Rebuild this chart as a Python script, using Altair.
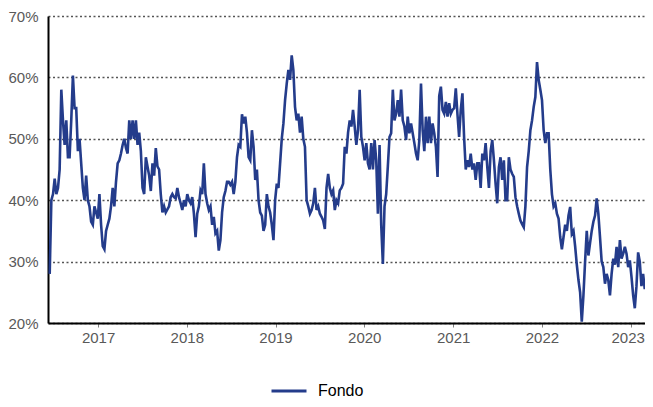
import altair as alt
import pandas as pd

series_name = "Fondo"

seg1 = [28, 40, 41, 43.5, 41, 42, 45, 58, 53, 49, 53, 47, 47, 53, 60.3, 55, 55, 48, 50, 46,
        42, 40, 44, 40, 39, 36.5, 36, 39, 38, 37, 41, 36, 32.5, 32, 35, 36, 37, 39, 42, 39,
        43, 46, 46.5]
seg2 = [47.6, 49, 50, 48.5, 47.6, 53, 50, 53, 50, 53, 49, 51, 48, 42, 41, 47, 45.5, 44, 41.5, 46,
        44, 48.5, 45.5, 45, 41, 38, 39, 38, 38.5, 39, 40.5, 41, 40.5, 40.3, 42, 40.5, 39.5, 38.4, 40, 39,
        41, 40, 39.5, 40.5, 37.8, 34, 37.8, 39, 41.6, 41, 46, 41, 39.5, 38.4, 39, 36, 37.3, 34.6, 35, 31.8,
        33.5, 38, 40.5, 41.5, 43, 43, 42.5, 43, 41, 43, 47, 49]
seg3 = [48.7, 54, 52.5, 53.6, 51, 47, 46.5, 51.4, 48.7, 43.3, 45, 40, 38, 37.5, 35, 36, 41, 39, 38, 36,
        33.5, 40, 42.7, 42, 46, 50, 52.5, 56.3, 59, 61.2, 59.6, 63.6, 61.2, 55.2, 53, 54.1, 51, 53.6, 50, 48.7,
        40, 39, 37.8, 38.4, 39.5, 42, 38.4, 39, 37.8, 37.3, 36.7, 35.3, 42, 44.3, 42, 41, 41.6, 38.4, 40, 39.5,
        41.6, 42, 42.7, 48.7, 47.6, 51, 53, 52, 54.7, 52, 49, 51.4]
seg4 = [58, 50.3, 48.7, 46.5, 49.3, 46, 45, 49.3, 45, 49.8, 46.5, 37.8, 49, 36, 29.6, 39, 41, 45.5, 50.3, 50.9,
        58, 53, 54.1, 56.3, 53.6, 58, 53, 52, 49.8, 53.6, 50.9, 52.5, 50.9, 49.3, 47.6, 46.5, 49.8, 59, 51.4, 48,
        53.6, 49.3, 53.6, 49.3, 52.5, 50.9, 48.7, 43.8, 57, 58.5, 54.7, 54.1, 56, 53.6, 55.8, 54.1, 54.7, 55, 58.2, 54,
        50.3, 54.7, 57.4, 50.3, 45, 46.5, 45.4, 47.6, 45, 46, 43.3, 46]
seg5 = [46, 42, 47.6, 46.5, 49.3, 45.4, 42, 48, 49.8, 46.5, 42.7, 39.5, 45.4, 47, 43.3, 46.5, 40, 40, 47, 45,
        44.3, 43.8, 40.5, 39, 37.8, 36.7, 36.1, 35.6, 39, 45.4, 48, 51.4, 53, 55.2, 56.8, 62.5, 59.6, 58, 56.3, 51.4,
        49.3, 50.9, 50.9, 45, 41, 39, 39.5, 37.8]
seg6 = [37, 34, 32, 34, 36, 35, 37.5, 38.9, 34.5, 35, 32.5, 29.5, 27, 25, 20.2, 24.5, 30, 35, 31, 33,
        35, 36.5, 37.5, 40.3, 37.8, 34, 30, 29.1, 26.4, 28, 27, 24.5, 28, 30.5, 29.5, 32.4, 29.1, 33.5, 30.5, 31.3,
        32.4, 31.3, 29.1, 30.2, 27.5, 24.5, 22.4, 26, 31.5, 30, 26, 28, 25.5]

values = seg1 + seg2 + seg3 + seg4 + seg5 + seg6
dates = pd.date_range("2016-06-16", "2023-02-28", periods=len(values))

year_ticks = [2017, 2018, 2019, 2020, 2021, 2022, 2023]
y_ticks = [20, 30, 40, 50, 60, 70]

df = pd.DataFrame({"date": dates, "value": values, "serie": series_name})

font = "Liberation Sans"

chart = alt.Chart(df).mark_line(strokeWidth=2.6, clip=True).encode(
    x=alt.X(
        "date:T",
        scale=alt.Scale(domain=[alt.DateTime(year=2016, month=6, date=9),
                                alt.DateTime(year=2023, month=3, date=1)]),
        axis=alt.Axis(
            values=[alt.DateTime(year=y, month=1, date=1) for y in year_ticks],
            format="%Y", title=None, grid=False,
            domainColor="black", domainWidth=2,
            tickColor="#808080", tickSize=4, tickWidth=1,
            labelColor="#595959", labelFontSize=15, labelFont=font, labelPadding=3,
            labelOffset={"condition": {"test": "year(datum.value) == 2023", "value": -3}, "value": 0},
        ),
    ),
    y=alt.Y(
        "value:Q",
        scale=alt.Scale(domain=[20, 70], nice=False, zero=False),
        axis=alt.Axis(
            values=y_ticks, labelExpr="datum.value + '%'", title=None,
            ticks=False, domainColor="black", domainWidth=2,
            grid=True, gridDash=[2, 2.5], gridColor="#555555", gridWidth=1.6,
            labelColor="#595959", labelFontSize=15, labelFont=font, labelPadding=10,
        ),
    ),
    color=alt.Color(
        "serie:N",
        scale=alt.Scale(domain=[series_name], range=["#243c8b"]),
        legend=alt.Legend(
            title=None, orient="none", legendX=222, legendY=356,
            symbolType="stroke", symbolSize=1225, symbolStrokeWidth=3,
            labelFontSize=16, labelFont=font, labelColor="black", labelOffset=10,
            padding=0,
        ),
    ),
).properties(
    width=597, height=307,
    autosize=alt.AutoSizeParams(type="none"),
    padding={"left": 40, "top": 8, "right": 0, "bottom": 76},
).configure_view(stroke=None)

chart.save("out.html", embed_options={"renderer": "svg", "actions": False})
